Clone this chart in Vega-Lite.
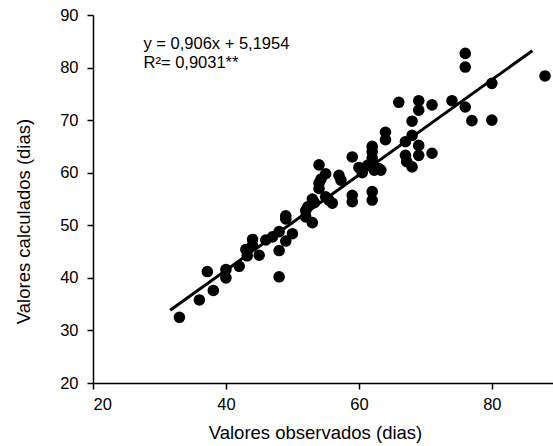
{
  "$schema": "https://vega.github.io/schema/vega-lite/v6.json",
  "autosize": {"type": "none"},
  "padding": {"left": 93, "top": 15, "right": 0, "bottom": 63},
  "width": 460,
  "height": 368,
  "background": "white",
  "config": {
    "view": {"stroke": null},
    "font": "Liberation Sans",
    "axis": {"grid": false, "domainColor": "black", "tickColor": "black", "labelColor": "black", "titleColor": "black", "labelFont": "Liberation Sans", "titleFont": "Liberation Sans", "labelFontSize": 16.5, "titleFontSize": 18.5, "titleFontWeight": "normal", "domainWidth": 1.5, "tickWidth": 1.5, "tickSize": 6}
  },
  "datasets": {
    "pts": [
      {"obs": 33, "calc": 32.5}, {"obs": 36, "calc": 35.8}, {"obs": 37.2, "calc": 41.2}, {"obs": 38.1, "calc": 37.6},
      {"obs": 40, "calc": 40}, {"obs": 40, "calc": 41.6}, {"obs": 42, "calc": 42.2}, {"obs": 43, "calc": 45.4},
      {"obs": 43.2, "calc": 44.2}, {"obs": 44, "calc": 47.3}, {"obs": 44, "calc": 46.2}, {"obs": 45, "calc": 44.3},
      {"obs": 46, "calc": 47.2}, {"obs": 47, "calc": 47.8}, {"obs": 48, "calc": 48.8}, {"obs": 48, "calc": 45.2},
      {"obs": 48, "calc": 40.2}, {"obs": 49, "calc": 51.8}, {"obs": 49, "calc": 51.2}, {"obs": 49, "calc": 47},
      {"obs": 50, "calc": 48.4}, {"obs": 52, "calc": 51.6}, {"obs": 52, "calc": 52.8}, {"obs": 52.3, "calc": 53.5},
      {"obs": 53, "calc": 50.5}, {"obs": 53, "calc": 55}, {"obs": 53.3, "calc": 54.3}, {"obs": 54, "calc": 61.5},
      {"obs": 54, "calc": 58}, {"obs": 54, "calc": 57}, {"obs": 54.3, "calc": 58.8}, {"obs": 55, "calc": 59.8},
      {"obs": 55, "calc": 55.4}, {"obs": 55.5, "calc": 54.8}, {"obs": 56, "calc": 54.2}, {"obs": 57, "calc": 59.5},
      {"obs": 57.3, "calc": 58.6}, {"obs": 59, "calc": 63}, {"obs": 59, "calc": 55.7}, {"obs": 59, "calc": 54.5},
      {"obs": 60, "calc": 61}, {"obs": 60.5, "calc": 60}, {"obs": 62, "calc": 65}, {"obs": 62, "calc": 64},
      {"obs": 62, "calc": 62.8}, {"obs": 62, "calc": 56.4}, {"obs": 62, "calc": 54.8}, {"obs": 61.3, "calc": 61.4},
      {"obs": 62.3, "calc": 60.5}, {"obs": 63, "calc": 60.8}, {"obs": 63.3, "calc": 60.5}, {"obs": 64, "calc": 67.7},
      {"obs": 64, "calc": 66.3}, {"obs": 66, "calc": 73.4}, {"obs": 67, "calc": 65.9}, {"obs": 67, "calc": 63.3},
      {"obs": 67.2, "calc": 62.1}, {"obs": 68, "calc": 69.8}, {"obs": 68, "calc": 67.1}, {"obs": 68, "calc": 61.1},
      {"obs": 69, "calc": 73.7}, {"obs": 69, "calc": 71.9}, {"obs": 69, "calc": 65.2}, {"obs": 69, "calc": 63.3},
      {"obs": 71, "calc": 72.9}, {"obs": 71, "calc": 63.7}, {"obs": 74, "calc": 73.7}, {"obs": 76, "calc": 82.7},
      {"obs": 76, "calc": 80.1}, {"obs": 76, "calc": 72.5}, {"obs": 77, "calc": 69.9}, {"obs": 80, "calc": 77},
      {"obs": 80, "calc": 70}, {"obs": 88, "calc": 78.4}
    ],
    "fit": [
      {"obs": 31.6, "calc": 33.825}, {"obs": 86.1, "calc": 83.203}
    ]
  },
  "layer": [
    {
      "data": {"name": "pts"},
      "mark": {"type": "circle", "size": 135, "color": "black", "opacity": 1},
      "encoding": {
        "x": {"field": "obs", "type": "quantitative", "scale": {"domain": [20, 89.2], "nice": false, "zero": false},
              "axis": {"values": [20, 40, 60, 80], "title": "Valores observados (dias)", "labelPadding": 7, "titlePadding": 11, "titleX": 222}},
        "y": {"field": "calc", "type": "quantitative", "scale": {"domain": [20, 90], "nice": false, "zero": false},
              "axis": {"values": [20, 30, 40, 50, 60, 70, 80, 90], "title": "Valores calculados (dias)", "labelPadding": 9, "titlePadding": 26, "titleY": 206}}
      }
    },
    {
      "data": {"name": "fit"},
      "mark": {"type": "line", "color": "black", "strokeWidth": 3},
      "encoding": {
        "x": {"field": "obs", "type": "quantitative"},
        "y": {"field": "calc", "type": "quantitative"}
      }
    },
    {
      "data": {"values": [{}]},
      "mark": {"type": "text", "align": "left", "baseline": "alphabetic", "fontSize": 16.5, "color": "black", "font": "Liberation Sans", "text": "y = 0,906x + 5,1954"},
      "encoding": {"x": {"datum": 27.6}, "y": {"datum": 83.5}}
    },
    {
      "data": {"values": [{}]},
      "mark": {"type": "text", "align": "left", "baseline": "alphabetic", "fontSize": 16.5, "color": "black", "font": "Liberation Sans", "text": "R²= 0,9031**"},
      "encoding": {"x": {"datum": 27.6}, "y": {"datum": 80.0}}
    }
  ]
}
